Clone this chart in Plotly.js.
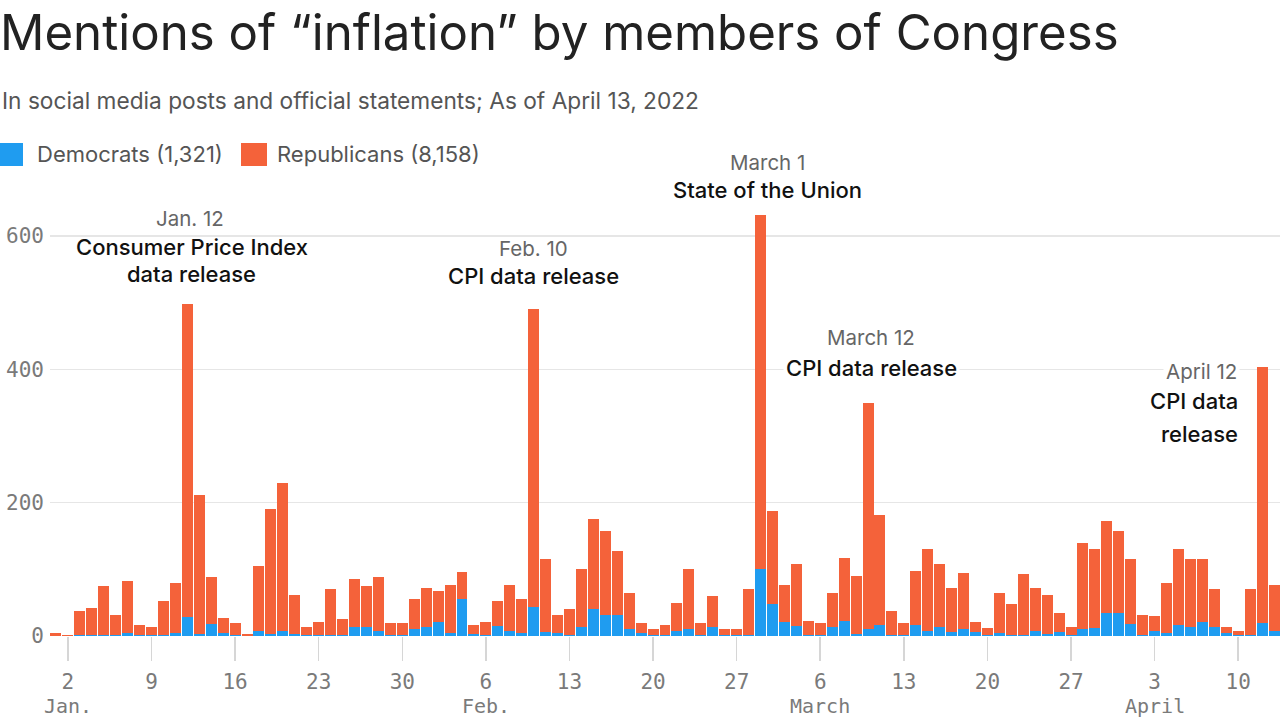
<!DOCTYPE html>
<html><head><meta charset="utf-8">
<script src="https://cdn.plot.ly/plotly-3.0.1.min.js"></script>
<style>html,body{margin:0;padding:0;background:#fff;} #chart{width:1280px;height:720px;}</style>
</head><body><div id="chart"></div>
<script>
// Daily mentions, Jan 1 – Apr 13, 2022
const demJan = [0,0,1,1,1,1,5,1,1,2,4,28,3,18,5,1,0,7,3,7,3,1,1,2,2,13,13,7,1,1,10];
const repJan = [4,2,37,41,74,31,77,15,12,51,76,470,208,70,22,19,3,98,187,223,59,13,20,68,24,73,62,81,19,19,46];
const demFeb = [13,21,4,55,3,2,15,7,4,44,6,4,1,13,41,32,32,10,4,2,1,7,10,2,13,1,1,1];
const repFeb = [59,47,73,41,14,19,38,70,52,447,109,27,40,87,134,125,96,55,16,8,15,43,91,18,47,10,10,69];
const demMar = [101,48,21,15,1,2,14,23,3,11,17,1,1,17,7,13,6,10,6,1,5,1,2,7,3,6,1,11,12,35,35];
const repMar = [531,139,56,93,22,18,51,94,87,339,164,37,19,81,124,95,66,85,15,11,60,47,91,65,59,29,12,129,118,137,122];
const demApr = [18,1,7,5,16,13,21,13,4,1,2,19,8];
const repApr = [98,30,23,75,114,102,95,58,10,6,69,384,69];

const tickDates = ['2022-01-02','2022-01-09','2022-01-16','2022-01-23','2022-01-30','2022-02-06','2022-02-13','2022-02-20','2022-02-27','2022-03-06','2022-03-13','2022-03-20','2022-03-27','2022-04-03','2022-04-10'];
const tickLabels = ['2','9','16','23','30','6','13','20','27','6','13','20','27','3','10'];
const monthDates = ['2022-01-02','2022-02-06','2022-03-06','2022-04-03'];
const monthLabels = ['Jan.','Feb.','March','April'];
const yTicks = [0,200,400,600];

const dem = [].concat(demJan, demFeb, demMar, demApr);
const rep = [].concat(repJan, repFeb, repMar, repApr);
const dates = [];
for (let i = 0; i < dem.length; i++) {
  const d = new Date(Date.UTC(2022, 0, 1 + i));
  dates.push(d.toISOString().slice(0, 10));
}

const BLUE = '#1f9cf0', ORANGE = '#f4623a';
const traces = [
  {type:'bar', x:dates, y:dem, name:'Democrats (1,321)', marker:{color:BLUE, line:{width:0}}},
  {type:'bar', x:dates, y:rep, name:'Republicans (8,158)', marker:{color:ORANGE, line:{width:0}}}
];

const L = 50, R = 1280, T = 200, B = 636;
const px = v => (v - L) / (R - L);
const py = v => (B - v) / (B - T);
const SANS = 'Inter, Roboto, sans-serif';
const MONO = 'DejaVu Sans Mono, monospace';
const monoFont = {family:MONO, size:21, color:'#7a7a7a'};
const monthFont = {family:MONO, size:20, color:'#7a7a7a'};

function note(text, x, y, opts) {
  return Object.assign({
    text: text, xref:'paper', yref:'paper', x:px(x), y:py(y),
    xanchor:'center', yanchor:'middle', showarrow:false,
    font:{family:SANS, size:22, color:'#111', weight:500}
  }, opts || {});
}
const grayFont = {family:SANS, size:20.5, color:'#666', weight:400};
const subFont = {family:SANS, size:22, color:'#555'};

const annotations = [
  note('In social media posts and official statements; As of April 13, 2022', 0, 101, {xanchor:'left', font:{family:SANS, size:22.7, color:'#555'}}),
  note('Democrats (1,321)', 35, 154, {xanchor:'left', font:subFont}),
  note('Republicans (8,158)', 275, 154, {xanchor:'left', font:subFont}),
  note('Jan. 12', 190, 218, {font:grayFont}),
  note('Consumer Price Index', 191.5, 247),
  note('data release', 191, 274),
  note('Feb. 10', 533, 248, {font:grayFont}),
  note('CPI data release', 533, 276),
  note('March 1', 767, 162, {font:grayFont}),
  note('State of the Union', 767, 190),
  note('March 12', 871, 337, {font:grayFont}),
  note('CPI data release', 871, 368, {bgcolor:'#fff', borderpad:2}),
  note('April 12', 1240, 371, {xanchor:'right', font:grayFont, bgcolor:'#fff', borderpad:2}),
  note('CPI data', 1240, 401, {xanchor:'right'}),
  note('release', 1240, 434, {xanchor:'right'})
];
monthDates.forEach((d, i) => {
  annotations.push({text:monthLabels[i], xref:'x', yref:'paper', x:d, y:py(706),
    xanchor:'center', yanchor:'middle', showarrow:false, font:monthFont});
});

const shapes = [
  {type:'rect', xref:'paper', yref:'paper', x0:px(0), x1:px(23), y0:py(166), y1:py(143), fillcolor:BLUE, line:{width:0}},
  {type:'rect', xref:'paper', yref:'paper', x0:px(241), x1:px(267), y0:py(166), y1:py(143), fillcolor:ORANGE, line:{width:0}}
];

const layout = {
  width:1280, height:720,
  margin:{l:L, r:1280-R, t:T, b:720-B, pad:0},
  paper_bgcolor:'#fff', plot_bgcolor:'#fff',
  barmode:'stack', bargap:0.08,
  showlegend:false,
  title:{text:'Mentions of “inflation” by members of Congress', x:0, xref:'container', xanchor:'left',
         y:1-33/720, yref:'container', yanchor:'middle', font:{family:SANS, size:49.2, color:'#222'}},
  xaxis:{type:'date', range:['2021-12-31 12:00','2022-04-13 12:00'], tickmode:'array',
         tickvals:tickDates, ticktext:tickLabels, ticks:'outside', ticklen:24, tickcolor:'#d6d6d6', tickwidth:1.5,
         showgrid:false, showline:false, zeroline:false, ticklabelstandoff:3,
         tickfont:monoFont},
  yaxis:{range:[0,654], tickmode:'array', tickvals:yTicks, showgrid:true, gridcolor:'#e6e6e6', gridwidth:1.5,
         zeroline:false, showline:false, ticks:'', ticklabelstandoff:5,
         tickfont:monoFont},
  shapes:shapes,
  annotations:annotations
};

Plotly.newPlot('chart', traces, layout, {staticPlot:true, displayModeBar:false});
</script>
</body></html>
